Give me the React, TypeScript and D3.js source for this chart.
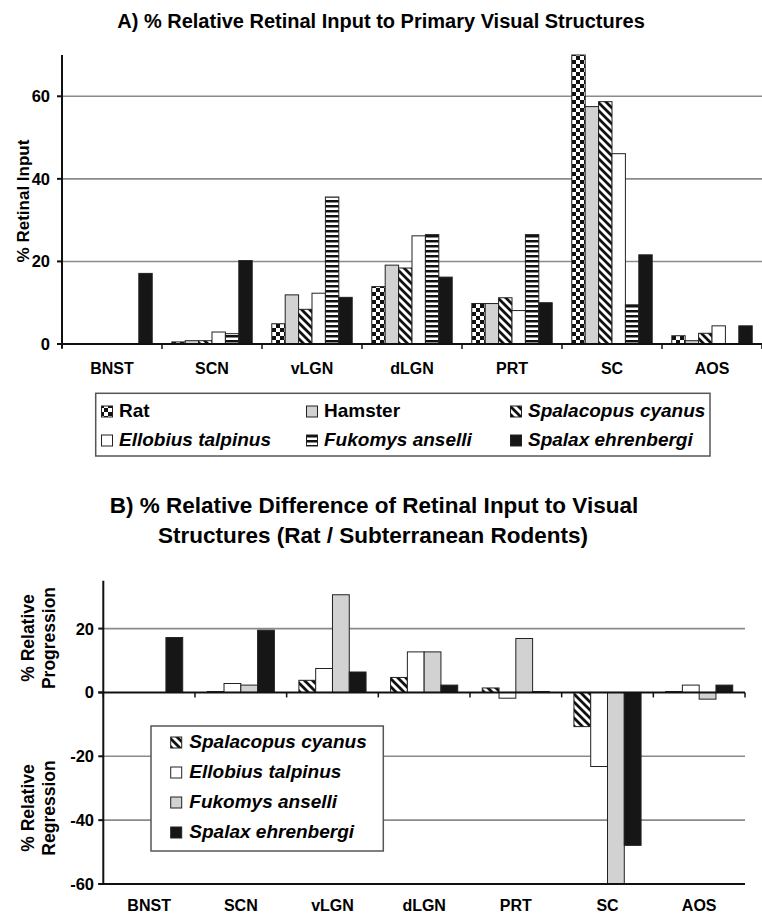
import React from "react";
import * as d3 from "d3";

const categories = ["BNST", "SCN", "vLGN", "dLGN", "PRT", "SC", "AOS"];

// Panel A: % relative retinal input
const seriesA = ["Rat", "Hamster", "Spalacopus cyanus", "Ellobius talpinus", "Fukomys anselli", "Spalax ehrenbergi"];
const ratA = [0, 0.5, 4.9, 13.9, 9.8, 70, 2.0];
const hamsterA = [0, 0.8, 11.9, 19.1, 9.8, 57.5, 0.8];
const spalacopusA = [0, 0.8, 8.4, 18.4, 11.2, 58.7, 2.6];
const ellobiusA = [0, 2.9, 12.3, 26.2, 8.1, 46.1, 4.4];
const fukomysA = [0, 2.5, 35.6, 26.5, 26.5, 9.5, 0];
const spalaxA = [17.1, 20.2, 11.3, 16.2, 10.0, 21.6, 4.4];
const ticksA = [0, 20, 40, 60];

// Panel B: % relative difference (rat / subterranean rodents)
const seriesB = ["Spalacopus cyanus", "Ellobius talpinus", "Fukomys anselli", "Spalax ehrenbergi"];
const spalacopusB = [0, 0.3, 3.8, 4.7, 1.4, -10.7, 0.3];
const ellobiusB = [0, 2.8, 7.5, 12.7, -1.8, -23.2, 2.3];
const fukomysB = [0, 2.3, 30.6, 12.7, 16.9, -60, -2.1];
const spalaxB = [17.2, 19.5, 6.4, 2.3, 0.3, -47.9, 2.3];
const ticksB = [20, 0, -20, -40, -60];

const FONT = "'Liberation Sans', Arial, Helvetica, sans-serif";

const fillsA: Record<string, string> = {
  "Rat": "url(#checker)",
  "Hamster": "#d2d2d2",
  "Spalacopus cyanus": "url(#diag)",
  "Ellobius talpinus": "#ffffff",
  "Fukomys anselli": "url(#hstripe)",
  "Spalax ehrenbergi": "#161616",
};
const fillsB: Record<string, string> = {
  "Spalacopus cyanus": "url(#diag)",
  "Ellobius talpinus": "#ffffff",
  "Fukomys anselli": "#d2d2d2",
  "Spalax ehrenbergi": "#161616",
};

const dataA = [ratA, hamsterA, spalacopusA, ellobiusA, fukomysA, spalaxA];
const dataB = [spalacopusB, ellobiusB, fukomysB, spalaxB];

export default function App() {
  // ---------- Panel A ----------
  const aL = 62, aR = 762, aTop = 55, aBot = 344;
  const xA = d3.scaleBand<string>().domain(categories).range([aL, aR]);
  const xAin = d3.scaleBand<string>().domain(seriesA).range([0, xA.bandwidth()]).paddingOuter(0.73);
  const yA = d3.scaleLinear().domain([0, 70]).range([aBot, aTop]);

  // ---------- Panel B ----------
  const bL = 103.3, bR = 745, bTop = 580.7, bBot = 884;
  const xB = d3.scaleBand<string>().domain(categories).range([bL, bR]);
  const xBin = d3.scaleBand<string>().domain(seriesB).range([0, xB.bandwidth()]).paddingOuter(0.73);
  const yB = d3.scaleLinear().domain([-60, 35]).range([bBot, bTop]);

  const boundsA = [...categories.map((c) => xA(c)!), aR];
  const boundsB = [...categories.map((c) => xB(c)!), bR];

  const legendA = [
    { name: "Rat", italic: false, x: 101.5, y: 417 },
    { name: "Hamster", italic: false, x: 306.5, y: 417 },
    { name: "Spalacopus cyanus", italic: true, x: 510.5, y: 417 },
    { name: "Ellobius talpinus", italic: true, x: 101.5, y: 446 },
    { name: "Fukomys anselli", italic: true, x: 306.5, y: 446 },
    { name: "Spalax ehrenbergi", italic: true, x: 510.5, y: 446 },
  ];
  const legendBY = [748, 778, 808, 838];

  return (
    <svg width={762} height={914} style={{ position: "absolute", left: 0, top: 0, background: "#fff" }} fontFamily={FONT}>
      <defs>
        <pattern id="checker" width={8} height={8} patternUnits="userSpaceOnUse">
          <rect width={8} height={8} fill="#fff" />
          <rect x={0} y={0} width={4} height={4} fill="#111" />
          <rect x={4} y={4} width={4} height={4} fill="#111" />
        </pattern>
        <pattern id="diag" width={8} height={8} patternUnits="userSpaceOnUse">
          <rect width={8} height={8} fill="#fff" />
          <path d="M-1,-1 L9,9 M-1,7 L1,9 M7,-1 L9,1" stroke="#111" strokeWidth={2.8} />
        </pattern>
        <pattern id="hstripe" width={4} height={5} patternUnits="userSpaceOnUse">
          <rect width={4} height={5} fill="#fff" />
          <rect width={4} height={2.5} fill="#111" />
        </pattern>
      </defs>

      {/* ===== Panel A ===== */}
      <text x={381} y={28} textAnchor="middle" fontSize={20} fontWeight="bold">
        A) % Relative Retinal Input to Primary Visual Structures
      </text>
      {ticksA.filter((t) => t > 0).map((t) => (
        <line key={t} x1={aL} x2={aR} y1={yA(t)} y2={yA(t)} stroke="#8a8a8a" strokeWidth={1.6} />
      ))}
      {seriesA.map((s, si) => (
        <g key={s}>
          {categories.map((c, ci) => {
            const v = dataA[si][ci];
            if (v <= 0) return null;
            return (
              <rect key={c} x={xA(c)! + xAin(s)!} y={yA(v)} width={xAin.bandwidth()} height={yA(0) - yA(v)}
                fill={fillsA[s]} stroke="#222" strokeWidth={1} />
            );
          })}
        </g>
      ))}
      <line x1={aL} x2={aL} y1={aTop} y2={aBot + 4} stroke="#111" strokeWidth={2} />
      <line x1={aL - 5} x2={aR} y1={aBot} y2={aBot} stroke="#111" strokeWidth={2} />
      {ticksA.map((t) => (
        <g key={t}>
          <line x1={aL - 5} x2={aL} y1={yA(t)} y2={yA(t)} stroke="#111" strokeWidth={2} />
          <text x={50} y={yA(t)} dy="0.36em" textAnchor="end" fontSize={16.5} fontWeight="bold">{t}</text>
        </g>
      ))}
      {boundsA.map((b, i) => (
        <line key={i} x1={b} x2={b} y1={aBot} y2={aBot + 5} stroke="#111" strokeWidth={1.5} />
      ))}
      {categories.map((c) => (
        <text key={c} x={xA(c)! + xA.bandwidth() / 2} y={374} textAnchor="middle" fontSize={16} fontWeight="bold">{c}</text>
      ))}
      <text transform="translate(29,201) rotate(-90)" textAnchor="middle" fontSize={17} fontWeight="bold">
        % Retinal Input
      </text>

      {/* Legend A */}
      <rect x={95.7} y={393.3} width={614.3} height={62.7} fill="#fff" stroke="#555" strokeWidth={1.5} />
      {legendA.map((l) => (
        <g key={l.name}>
          <rect x={l.x} y={l.y - 11} width={11} height={11} fill={fillsA[l.name]} stroke="#222" strokeWidth={1} />
          <text x={l.x + 17.5} y={l.y} fontSize={19} fontWeight="bold" fontStyle={l.italic ? "italic" : "normal"}>{l.name}</text>
        </g>
      ))}

      {/* ===== Panel B ===== */}
      <text x={374} y={513} textAnchor="middle" fontSize={22.5} fontWeight="bold">
        B) % Relative Difference of Retinal Input to Visual
      </text>
      <text x={373} y={543} textAnchor="middle" fontSize={22.5} fontWeight="bold">
        Structures (Rat / Subterranean Rodents)
      </text>
      {[20, -20, -40].map((t) => (
        <line key={t} x1={bL} x2={bR} y1={yB(t)} y2={yB(t)} stroke="#8a8a8a" strokeWidth={1.6} />
      ))}
      {seriesB.map((s, si) => (
        <g key={s}>
          {categories.map((c, ci) => {
            const v = dataB[si][ci];
            if (v === 0) return null;
            const y0 = yB(0), y1 = yB(v);
            return (
              <rect key={c} x={xB(c)! + xBin(s)!} y={Math.min(y0, y1)} width={xBin.bandwidth()} height={Math.abs(y1 - y0)}
                fill={fillsB[s]} stroke="#222" strokeWidth={1} />
            );
          })}
        </g>
      ))}
      <line x1={bL} x2={bL} y1={bTop} y2={bBot} stroke="#111" strokeWidth={2} />
      <line x1={bL - 5} x2={bR} y1={yB(0)} y2={yB(0)} stroke="#111" strokeWidth={2} />
      <line x1={bL - 5} x2={bR} y1={yB(-60)} y2={yB(-60)} stroke="#111" strokeWidth={2} />
      {ticksB.map((t) => (
        <g key={t}>
          <line x1={bL - 5} x2={bL} y1={yB(t)} y2={yB(t)} stroke="#111" strokeWidth={2} />
          <text x={94} y={yB(t)} dy="0.36em" textAnchor="end" fontSize={16.5} fontWeight="bold">{t}</text>
        </g>
      ))}
      {boundsB.map((b, i) => (
        <line key={i} x1={b} x2={b} y1={yB(0)} y2={yB(0) + 5} stroke="#111" strokeWidth={1.5} />
      ))}
      {categories.map((c) => (
        <text key={c} x={xB(c)! + xB.bandwidth() / 2} y={911} textAnchor="middle" fontSize={16} fontWeight="bold">{c}</text>
      ))}
      <text transform="translate(0,638) rotate(-90)" textAnchor="middle" fontSize={17.5} fontWeight="bold">
        <tspan x={0} y={34}>% Relative</tspan>
        <tspan x={0} y={55}>Progression</tspan>
      </text>
      <text transform="translate(0,808) rotate(-90)" textAnchor="middle" fontSize={17.5} fontWeight="bold">
        <tspan x={0} y={34}>% Relative</tspan>
        <tspan x={0} y={55}>Regression</tspan>
      </text>

      {/* Legend B */}
      <rect x={151} y={726} width={232.3} height={125} fill="#fff" stroke="#555" strokeWidth={1.5} />
      {seriesB.map((s, i) => (
        <g key={s}>
          <rect x={170.7} y={legendBY[i] - 11} width={11} height={11} fill={fillsB[s]} stroke="#222" strokeWidth={1} />
          <text x={189.3} y={legendBY[i]} fontSize={19} fontWeight="bold" fontStyle="italic">{s}</text>
        </g>
      ))}
    </svg>
  );
}
